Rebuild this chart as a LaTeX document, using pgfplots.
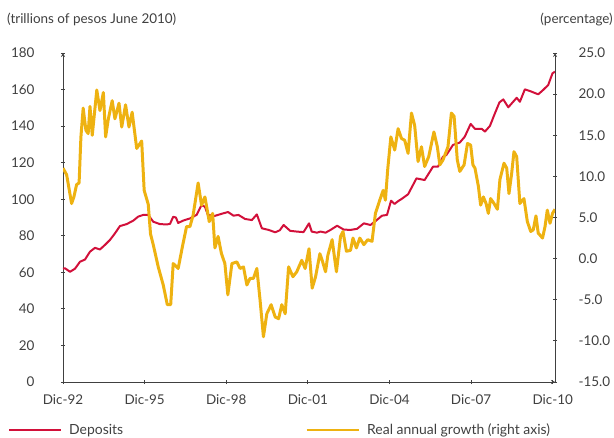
\documentclass[border=0pt]{standalone}
\usepackage{fontspec}
\setmainfont{Lato}
\usepackage{pgfplots}
\usepackage{pgfplotstable}
\pgfplotsset{compat=1.18}
\definecolor{dep}{RGB}{210,16,58}
\definecolor{gro}{RGB}{238,178,17}
\definecolor{axg}{RGB}{64,64,64}

\pgfplotstableread{
m v
0 62
0.9 62.2
3.1 60.3
5.3 62
7.5 65.8
9.7 67
11.9 71.3
14.1 73.4
16.3 72.5
18.5 75
20.7 77.7
22.9 81.3
25.1 85.3
28.1 86.4
31.0 88.3
33.2 90.5
35.4 91.4
37.6 91.4
39.8 87.7
42.7 86.4
45.7 86.2
47.2 86.5
48.6 90.4
49.8 90
50.8 87
53.0 88.3
56.0 89.5
58.9 91.4
61.1 96.8
62.6 95.9
63.9 91.4
67.0 90.9
69.9 92
72.8 93
75.2 91
77.4 91.4
80.3 89.2
83.3 88.6
85.5 91.7
87.7 84.1
90.7 83.2
93.6 81.9
95.6 83
97.3 85.9
100.2 82.7
103.1 82.3
106.1 82
108.5 86.8
109.7 82.3
112.0 81.7
113.6 82.3
115.8 81.7
118.0 83.2
120.9 85.5
123.8 83.4
126.8 83.2
129.7 83.8
132.7 86.8
135.6 85.9
137.8 88
140.7 91
142.9 91.4
144.7 99.2
146.2 97.4
148.1 99.2
149.3 100.1
152.2 102.7
155.9 111.4
159.5 110.5
163.2 117.8
165.4 117.8
167.6 123.3
169.1 124.2
172.0 129.7
175.0 131
177.2 134.2
179.8 141.2
181.7 138.5
184.7 138.5
186.1 137
188.3 140.1
190.5 147
192.5 153
194.2 154.6
196.4 150.3
200.1 155.5
201.5 153.3
203.7 160.1
205.9 159.2
209.6 157.4
211.8 159.8
214.0 162.5
215.9 168.9
217.0 169.8
}\deposits

\pgfplotstableread{
m v
0 11
1.6 10.2
3.8 6.7
4.8 7.5
6.0 9
7.1 9.2
7.9 14.8
8.9 18.3
10.1 15.6
11.1 15.2
11.9 18.5
12.9 15
14.9 20.5
16.3 18
17.8 20.2
18.8 14.8
20.0 17
21.7 19.2
22.9 17
24.7 18.9
25.9 16
27.6 18.7
29.1 16
30.5 17.8
32.5 13.4
34.7 14.3
35.8 8.3
37.6 6.6
38.6 3
39.8 1.7
42.0 -1
44.2 -3.2
46.0 -5.6
47.5 -5.6
48.6 -0.6
50.8 -1.2
52.7 1.5
54.5 3.9
56.0 3.9
57.4 5.3
59.6 9.2
61.1 6.5
62.6 7.5
64.5 4.5
66.0 5.5
67.0 1.3
68.4 2.7
69.9 0.6
71.4 -0.6
72.7 -4.4
74.5 -0.6
76.7 -0.4
78.1 -1.2
79.6 -1
81.1 -3.2
82.5 -2.4
84.0 -2.4
85.5 -1.2
86.9 -5
88.4 -9.5
89.9 -6.7
91.8 -5.6
93.6 -7.1
95.1 -7.3
96.5 -5.6
98.0 -6.7
99.5 -1
101.4 -2.2
103.1 -1.6
105.3 -0.2
106.8 -1.2
108.5 1.2
109.9 -3.6
111.4 -2.2
113.3 0.6
114.3 -0.2
115.8 -1.6
116.8 0.4
118.7 2.3
120.6 -1.6
122.4 2.7
123.5 3.3
125.0 0.9
126.8 1
127.9 2.5
129.4 1.3
130.9 2.5
132.7 1.7
134.4 2.3
136.3 2.1
137.8 5.5
139.7 7.1
141.2 8.3
142.2 7.1
143.2 10.8
144.6 14.8
146.3 13.2
147.8 15.8
149.3 14.6
150.7 14.4
152.2 12.8
153.7 17.7
155.1 16.2
156.6 11.8
158.1 13.6
159.5 11.2
161.3 12.4
163.6 15.4
165.1 13.6
166.2 11.4
167.6 12
169.8 13.6
171.3 17.7
172.5 17.3
173.9 12
175.0 10.6
176.9 11.4
178.4 14
179.8 13.8
180.8 11.4
181.7 11
183.2 8.8
184.2 6.5
185.4 7.5
186.6 6.7
187.6 5.5
188.6 7.3
190.1 6.7
191.6 6
192.7 9.6
194.5 11.6
195.7 11
196.7 7.9
197.9 10.4
198.9 13
200.1 12.4
201.5 6.7
203.3 7.3
204.8 4.5
206.3 3.3
207.4 3.5
208.6 5.2
209.6 3.1
211.5 2.5
212.6 3.9
213.6 5.9
214.8 4.3
215.9 5.5
217.0 6
}\growth

\pgfplotsset{
  base/.style={
    scale only axis, width=492bp, height=329bp,
    xmin=0, xmax=217,
    font=\fontsize{13.5}{16}\selectfont,
    tick align=inside, major tick length=4bp,
    axis line style={axg, line width=0.8pt, -},
    tick style={axg, line width=0.8pt},
    ticklabel style={text=axg},
    /pgf/number format/assume math mode=true,
  }
}

\begin{document}
\begin{tikzpicture}
\begin{axis}[base, name=ax1,
  axis x line=bottom, axis y line=left,
  ymin=0, ymax=180, ytick={0,20,...,180},
  xtick={0,36,72,108,144,180,216},
  xticklabels={Dic-92,Dic-95,Dic-98,Dic-01,Dic-04,Dic-07,Dic-10},
  yticklabel style={xshift=-23bp},
  xticklabel style={yshift=-7bp},
]
\addplot[dep, line width=2pt, line join=round] table[x=m,y=v]{\deposits};
\end{axis}
\begin{axis}[base,
  axis x line=none, axis y line=right,
  ymin=-15, ymax=25, ytick={-15,-10,...,25},
  yticklabels={-15.0,-10.0,-5.0,0.0,5.0,10.0,15.0,20.0,25.0},
  yticklabel style={xshift=18bp},
  legend columns=2,
  legend image code/.code={\draw[#1] (0bp,0bp) -- (52bp,0bp); \path (57bp,0bp);},
  legend style={at={(axis description cs:0,0)}, anchor=west,
    xshift=-58bp, yshift=-48bp, draw=none, fill=none,
    font=\fontsize{14}{16}\selectfont, text=axg,
    /tikz/every even column/.append style={column sep=180bp}},
  legend cell align=left,
]
\addlegendimage{dep, line width=2pt}
\addlegendentry{Deposits}
\addplot[gro, line width=3pt, line join=round] table[x=m,y=v]{\growth};
\addlegendentry{Real annual growth (right axis)}
\end{axis}
\node[anchor=base west, inner sep=0, text=axg, font=\fontsize{13.5}{16}\selectfont] at ([xshift=-56bp,yshift=29bp]ax1.north west) {(trillions of pesos June 2010)};
\node[anchor=base east, inner sep=0, text=axg, font=\fontsize{13.5}{16}\selectfont] at ([xshift=58bp,yshift=29bp]ax1.north east) {(percentage)};
\pgfresetboundingbox
\useasboundingbox ([xshift=-63bp,yshift=-56bp]ax1.south west) rectangle ([xshift=59bp,yshift=53bp]ax1.north east);
\end{tikzpicture}
\end{document}
